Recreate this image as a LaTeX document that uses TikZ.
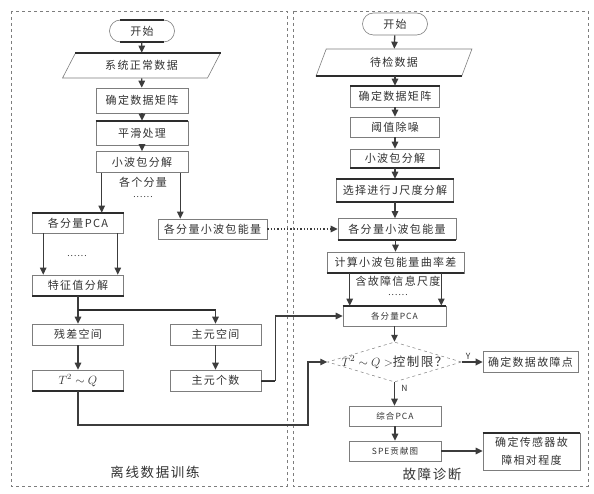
\documentclass[tikz,border=0pt]{standalone}
\usepackage{fontspec}
\newfontfamily\cjk{Noto Sans CJK SC}[LetterSpace=12]
\usetikzlibrary{arrows.meta,positioning,calc,shapes.geometric}
\definecolor{txtgray}{RGB}{50,50,50}
\definecolor{boxgray}{RGB}{125,125,125}
\definecolor{arrgray}{RGB}{60,60,60}
\definecolor{barblack}{RGB}{45,45,45}

\begin{document}
\begin{tikzpicture}[x=1pt,y=-1pt,font=\cjk\fontsize{11}{13}\selectfont,text=txtgray,
  box/.style={draw=boxgray,line width=0.6pt,minimum width=#1,minimum height=21pt,inner sep=1pt},
  box/.default=91pt,
  term/.style={draw=boxgray,line width=0.6pt,rounded corners=11pt,minimum width=65pt,minimum height=22pt},
  para/.style={trapezium,draw=boxgray,line width=0.6pt,trapezium stretches=true,inner sep=1pt},
  decision/.style={diamond,draw=boxgray,dashed,line width=0.5pt,minimum width=134pt,minimum height=40pt,inner sep=0pt},
  bar/.style={draw=barblack,line width=2pt},
  topbar/.style={append after command={\pgfextra{\let\barnode\tikzlastnode}
      (\barnode.north west) edge[bar] (\barnode.north east)}},
  botbar/.style={append after command={\pgfextra{\let\barnode\tikzlastnode}
      (\barnode.south west) edge[bar] (\barnode.south east)}},
  ptop/.style={append after command={\pgfextra{\let\barnode\tikzlastnode}
      (\barnode.top left corner) edge[bar] (\barnode.top right corner)}},
  pbot/.style={append after command={\pgfextra{\let\barnode\tikzlastnode}
      (\barnode.bottom left corner) edge[bar] (\barnode.bottom right corner)}},
  stadbar/.style={append after command={\pgfextra{\let\barnode\tikzlastnode}
      ([xshift=11pt]\barnode.north west) edge[bar] ([xshift=-11pt]\barnode.north east)
      ([xshift=11pt]\barnode.south west) edge[bar] ([xshift=-11pt]\barnode.south east)}},
  arr/.style={draw=arrgray,line width=1.3pt,-{Triangle[length=7pt,width=6.5pt]}},
  small/.style={font=\cjk\fontsize{8.5}{10}\selectfont},
  title/.style={font=\cjk\fontsize{13.5}{15}\selectfont}]
  \useasboundingbox (0,0) rectangle (594,494);
  % Two dashed frames
  \draw[boxgray,dashed,line width=0.6pt] (11,11) rectangle (287,486);
  \draw[boxgray,dashed,line width=0.6pt] (293,11) rectangle (588,486);
  \node[title] (offtitle) at (155,472) {离线数据训练};
  \node[title] (diagtitle) at (432,474) {故障诊断};

  % Offline training
  \node[term,stadbar] (lstart) at (142,31) {开始};
  \node[para,ptop,trapezium left angle=59,trapezium right angle=121,minimum width=158pt,minimum height=25pt] (lnorm) at (141.5,65.5) {系统正常数据};
  \node[box=92pt,minimum height=25pt] (lmat) at (142,100.5) {确定数据矩阵};
  \node[box=92pt,minimum height=24pt,topbar] (lsmooth) at (142,133) {平滑处理};
  \node[box=92pt] (lwpd) at (142,162) {小波包分解};
  \node (lcomp) at (143,182) {各个分量};
  \node[small] (ldots1) at (143,197) {......};
  \node[box,minimum height=20pt,topbar] (lpca) at (78,223) {各分量PCA};
  \node[box=109pt,minimum height=20pt] (lenergy) at (212.5,229) {各分量小波包能量};
  \node[small] (ldots2) at (77,256) {......};
  \node[box,botbar] (leig) at (78,285.5) {特征值分解};
  \node[box] (lres) at (78,334.5) {残差空间};
  \node[box] (lpc) at (215.5,334.5) {主元空间};
  \node[box,botbar,font=\fontsize{12}{14}\selectfont] (ltq) at (78,380.5) {$T^2\sim Q$};
  \node[box] (lnum) at (215.5,380.5) {主元个数};
  \coordinate (split) at ($(leig.south)!0.5!(lres.north)$);
  \coordinate (lowpath) at (308,425);

  \draw[arr] (lstart) -- (lnorm);
  \draw[arr] (lnorm) -- (lmat);
  \draw[arr] (lmat) -- (lsmooth);
  \draw[arr] (lsmooth) -- (lwpd);
  \draw[arr] ([xshift=6pt]lwpd.south west) coordinate (a1) -- (a1 |- lpca.north);
  \draw[arr] ([xshift=-8pt]lwpd.south east) coordinate (a2) -- (a2 |- lenergy.north);
  \draw[arr] ([xshift=11pt]lpca.south west) coordinate (a3) -- (a3 |- leig.north);
  \draw[arr] ([xshift=-6pt]lpca.south east) coordinate (a4) -- (a4 |- leig.north);
  \draw[arr] (leig) -- (lres);
  \draw[bar] (split) -- (split -| lpc.north);
  \draw[arr] (split -| lpc.north) -- (lpc);
  \draw[arr] (lres) -- (ltq);
  \draw[arr] (lpc) -- (lnum);

  % Fault diagnosis
  \node[term] (rstart) at (395,24) {开始};
  \node[para,pbot,trapezium left angle=73,trapezium right angle=107,minimum width=156pt,minimum height=27pt] (rdata) at (394,62.5) {待检数据};
  \node[box=89pt,topbar] (rmat) at (395,96.5) {确定数据矩阵};
  \node[box=89pt,minimum height=20pt] (rden) at (395,127) {阈值除噪};
  \node[box=89pt,minimum height=19pt,botbar] (rwpd) at (395,158.5) {小波包分解};
  \node[box=117pt,minimum height=23pt,topbar,botbar] (rsel) at (395,190.5) {选择进行J尺度分解};
  \node[box=118pt,botbar] (renergy) at (397,229) {各分量小波包能量};
  \node[box=137pt,botbar] (rcurv) at (395.5,262.5) {计算小波包能量曲率差};
  \node (rscale) at (398,281) {含故障信息尺度};
  \node[small] (rdots) at (398,295) {......};
  \node[box=103pt,minimum height=20pt,topbar,small] (rpca) at (394.5,316) {各分量PCA};
  \node[decision,label={[font=\fontsize{12.5}{14}\selectfont]center:$T^2\sim Q>$\cjk 控制限？}] (rdia) at (394.5,362) {};
  \node[box=95pt] (rfault) at (530.5,362) {确定数据故障点};
  \node[box=92pt,minimum height=20pt,small] (rall) at (395,416) {综合PCA};
  \node[box=92pt,minimum height=20pt,small] (rspe) at (395,451) {SPE贡献图};
  \node[box=97pt,minimum height=37pt,topbar,align=center,font=\cjk\fontsize{11}{18}\selectfont] (rsens) at (531.5,451.5) {确定传感器故\\障相对程度};

  \draw[arr] (rstart) -- (rdata);
  \draw[arr] (rdata.south -| rmat.north) -- (rmat);
  \draw[arr] (rmat) -- (rden);
  \draw[arr] (rden) -- (rwpd);
  \draw[arr] (rwpd) -- (rsel);
  \draw[arr] (rsel) -- (rsel.south |- renergy.north);
  \draw[arr] (renergy.south -| rcurv.north) -- (rcurv);
  \draw[arr] ([xshift=23pt]rcurv.south west) coordinate (b1) -- (b1 |- rpca.north);
  \draw[arr] ([xshift=-23pt]rcurv.south east) coordinate (b2) -- (b2 |- rpca.north);
  \draw[arr] (rpca.south -| rdia.north) -- (rdia);
  \draw[arr,line width=2pt] (rdia.east) -- node[pos=0.3,above=-2pt,small] (ylab) {Y} (rfault.west);
  \draw[arr] (rdia.south) -- node[pos=0.25,right=3pt,small] (nlab) {N} (rdia.south |- rall.north);
  \draw[arr] (rall.south -| rspe.north) -- (rspe);
  \draw[arr] (rspe) -- (rspe.east -| rsens.west);

  % Links between the two stages
  \draw[arr,dotted,line width=1.3pt] (lenergy.east) -- (lenergy.east -| renergy.west);
  \draw[bar] (lnum.east) -- ++(14,0);
  \draw[arr] (lnum.east) -- ++(14,0) |- (rpca.west);
  \draw[arr] (ltq.south) |- (lowpath) |- (rdia.west);
\end{tikzpicture}
\end{document}
